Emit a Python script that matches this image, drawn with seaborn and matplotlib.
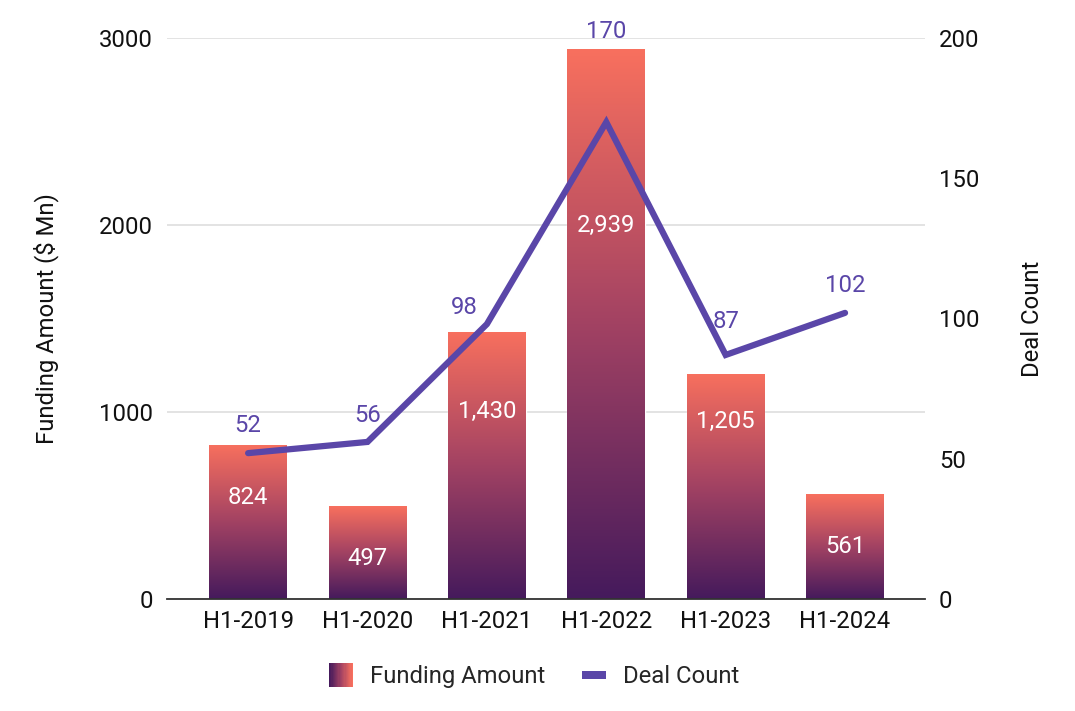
import matplotlib
matplotlib.use("Agg")
import matplotlib.pyplot as plt
import numpy as np
import seaborn as sns
from matplotlib.colors import LinearSegmentedColormap
from matplotlib.legend_handler import HandlerBase
from matplotlib.patches import Rectangle

# data
periods = ["H1-2019", "H1-2020", "H1-2021", "H1-2022", "H1-2023", "H1-2024"]
funding = [824, 497, 1430, 2939, 1205, 561]
funding_text = ["824", "497", "1,430", "2,939", "1,205", "561"]
deals = [52, 56, 98, 170, 87, 102]
deal_text = ["52", "56", "98", "170", "87", "102"]

# where google put the labels (data units / points offsets)
funding_label_y = [545, 218, 1005, 1995, 950, 280]
deal_offsets = [(0, 20), (0, 19), (-16, 12), (0, 0), (0, 24), (0, 20)]

BAR_TOP = "#F8705E"
BAR_MID = "#A24263"
BAR_BOT = "#451A5C"
LINE = "#5A46A8"
grad = LinearSegmentedColormap.from_list("fund", [BAR_BOT, BAR_MID, BAR_TOP])

sns.set_style("white")
plt.rcParams["font.family"] = ["Roboto", "DejaVu Sans"]
FS = 17.2

fig = plt.figure(figsize=(10.75, 7.11), dpi=100)
ax = fig.add_axes([0.1553, 0.1575, 0.7052, 0.7891])

sns.barplot(x=periods, y=funding, ax=ax, width=0.65, color=BAR_MID, saturation=1)

# vertical gradient fill inside each bar
g = np.linspace(0, 1, 256).reshape(-1, 1)
for p in ax.patches:
    x0, y0 = p.get_x(), p.get_y()
    w, h = p.get_width(), p.get_height()
    im = ax.imshow(g, cmap=grad, aspect="auto", origin="lower",
                   extent=[x0, x0 + w, y0, y0 + h], zorder=p.get_zorder() + 0.1)
    im.set_clip_path(p)

ax.set_xlim(-0.68, 5.67)
ax.set_ylim(0, 3000)
ax.set_yticks([0, 1000, 2000, 3000])
ax.grid(axis="y", color="#e0e0e0", linewidth=1.3)
ax.set_axisbelow(True)
for s in ["top", "right", "left"]:
    ax.spines[s].set_visible(False)
ax.spines["bottom"].set_color("#333333")
ax.spines["bottom"].set_linewidth(1.3)
ax.spines["bottom"].set_zorder(5)
ax.tick_params(axis="both", length=0, labelsize=FS, colors="#111111")
ax.tick_params(axis="y", pad=10)
ax.tick_params(axis="x", pad=8)
ax.set_xlabel("")
ax.set_ylabel("Funding Amount ($ Mn)", fontsize=FS, labelpad=29, color="#111111")

for i, (t, yy) in enumerate(zip(funding_text, funding_label_y)):
    ax.text(i, yy, t, ha="center", va="center", color="white", fontsize=FS, zorder=6)

# deal count line on the right axis
ax2 = ax.twinx()
sns.lineplot(x=np.arange(len(periods)), y=deals, ax=ax2, color=LINE,
             linewidth=4.5, solid_joinstyle="miter")
ax2.set_ylim(0, 200)
ax2.set_yticks([0, 50, 100, 150, 200])
for s in ["top", "right", "left", "bottom"]:
    ax2.spines[s].set_visible(False)
ax2.tick_params(axis="y", length=0, labelsize=FS, colors="#111111", pad=10)
ax2.set_ylabel("Deal Count", fontsize=FS, labelpad=30, color="#111111")
ax2.grid(False)

for i, (d, t, off) in enumerate(zip(deals, deal_text, deal_offsets)):
    if d > 160:
        # google clamps the top label to the chart edge
        ax2.annotate(t, (i, 200), xytext=(0, 4.5), textcoords="offset points",
                     ha="center", va="center", color=LINE, fontsize=FS,
                     annotation_clip=False)
    else:
        ax2.annotate(t, (i, d), xytext=off, textcoords="offset points",
                     ha="center", va="center", color=LINE, fontsize=FS)


class GradientHandler(HandlerBase):
    def create_artists(self, legend, orig, xd, yd, width, height, fontsize, trans):
        n = 20
        arts = []
        side = width
        y0 = yd + (height - side) / 2
        for k in range(n):
            r = Rectangle((xd + side * k / n, y0), side / n + 0.3, side,
                          facecolor=grad(k / (n - 1)), edgecolor="none",
                          transform=trans)
            arts.append(r)
        return arts


class LineBoxHandler(HandlerBase):
    def create_artists(self, legend, orig, xd, yd, width, height, fontsize, trans):
        th = width / 3
        r = Rectangle((xd, yd + (height - th) / 2), width, th,
                      facecolor=LINE, edgecolor="none", transform=trans)
        return [r]


fund_handle = Rectangle((0, 0), 1, 1)
deal_handle = Rectangle((0, 0), 1, 1)
leg = fig.legend([fund_handle, deal_handle], ["Funding Amount", "Deal Count"],
                 handler_map={fund_handle: GradientHandler(), deal_handle: LineBoxHandler()},
                 loc="center", bbox_to_anchor=(0.497, 0.048), ncol=2, frameon=False,
                 fontsize=FS, handlelength=1.0, handletextpad=0.72, columnspacing=1.55)

fig.savefig("out.png", dpi=100)
